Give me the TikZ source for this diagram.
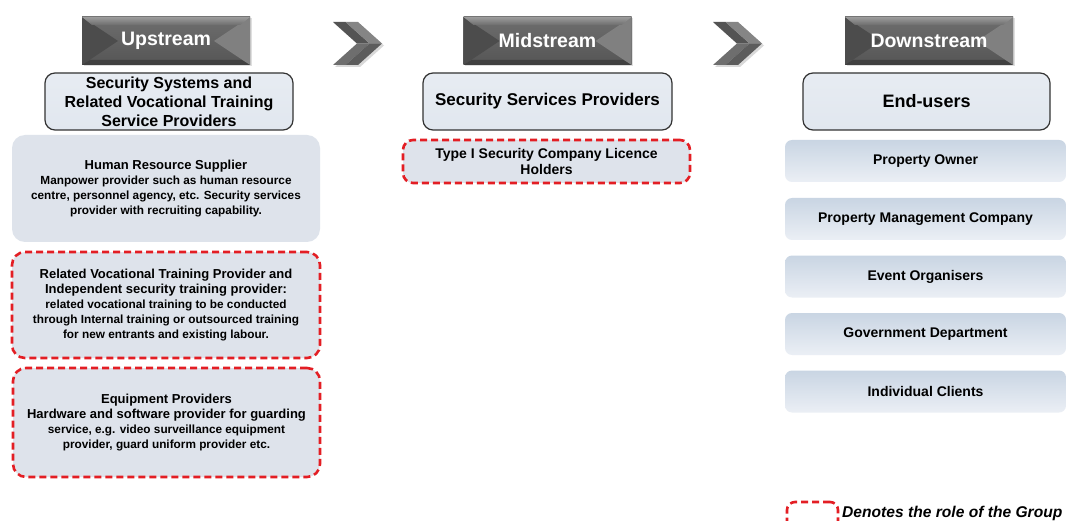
\documentclass[tikz,border=0pt]{standalone}
\usepackage{fontspec}
\setmainfont{Liberation Sans}
\usetikzlibrary{shadows}
\definecolor{boxfill}{HTML}{DEE3EB}
\definecolor{titlefill}{HTML}{E1E7EF}
\definecolor{redline}{HTML}{E31E24}
\definecolor{hdrtop}{HTML}{6E6E6E}
\definecolor{hdrbot}{HTML}{555555}
\definecolor{hdrleft}{HTML}{4C4C4C}
\definecolor{hdrright}{HTML}{808080}
\definecolor{hdrbevel}{HTML}{A2A2A2}
\definecolor{endtop}{HTML}{C9D5E3}
\definecolor{endbot}{HTML}{EBEFF5}
\tikzset{
  hdr/.style={rectangle, minimum width=168pt, minimum height=48pt, inner sep=0pt,
    top color=hdrtop, bottom color=hdrbot, text=white,
    font=\fontsize{19.5}{22}\selectfont\bfseries,
    drop shadow={shadow xshift=1.5pt, shadow yshift=-1.5pt, opacity=0.25},
    path picture={
      \fill[hdrleft] (path picture bounding box.north west) -- ([xshift=36pt]path picture bounding box.west) -- (path picture bounding box.south west) -- cycle;
      \fill[hdrright] (path picture bounding box.north east) -- ([xshift=-36pt]path picture bounding box.east) -- (path picture bounding box.south east) -- cycle;
      \shade[top color=hdrbevel, bottom color=hdrtop, opacity=0.9] (path picture bounding box.north west) -- (path picture bounding box.north east) -- ([xshift=-10pt,yshift=-8pt]path picture bounding box.north east) -- ([xshift=10pt,yshift=-8pt]path picture bounding box.north west) -- cycle;
      \fill[black, opacity=0.25] (path picture bounding box.south west) -- (path picture bounding box.south east) -- ([xshift=-8pt,yshift=5pt]path picture bounding box.south east) -- ([xshift=8pt,yshift=5pt]path picture bounding box.south west) -- cycle;
    }},
  titlebox/.style={rectangle, rounded corners=10pt, draw=black!80, line width=1.2pt,
    top color=titlefill!80!white, bottom color=titlefill, minimum height=57pt,
    inner sep=0pt, align=center, font=\bfseries},
  leftbox/.style={rectangle, rounded corners=13pt, fill=boxfill, minimum width=308pt,
    inner sep=0pt, align=center, font=\fontsize{11.8}{14.8}\selectfont\bfseries},
  reddash/.style={draw=redline, line width=2.6pt, dash pattern=on 7pt off 4pt},
  endbox/.style={rectangle, rounded corners=7pt, top color=endtop, bottom color=endbot,
    minimum width=281pt, minimum height=42pt, inner sep=0pt,
    font=\fontsize{14}{16}\selectfont\bfseries},
  chevA/.style={fill=black!67},
  chevB/.style={fill=black!48},
  chevC/.style={fill=black!57},
  chevD/.style={fill=black!64},
}
\newcommand{\chevron}[1]{%
  \begin{scope}[xshift=#1]
    \fill[black, opacity=0.15] (335,24) -- (360,24) -- (384,45.5) -- (360,67) -- (335,67) -- (359,45.5) -- cycle;
    \fill[chevA] (333,22) -- (345.5,22) -- (369.5,43.5) -- (357,43.5) -- cycle;
    \fill[chevB] (345.5,22) -- (358,22) -- (382,43.5) -- (369.5,43.5) -- cycle;
    \fill[chevC] (357,43.5) -- (369.5,43.5) -- (345.5,65) -- (333,65) -- cycle;
    \fill[chevD] (369.5,43.5) -- (382,43.5) -- (358,65) -- (345.5,65) -- cycle;
  \end{scope}}
\begin{document}
\begin{tikzpicture}[x=1pt,y=-1pt]
\useasboundingbox (0,0) rectangle (1067,521);
\clip (0,0) rectangle (1067,521);
\fill[white] (0,0) rectangle (1067,521);

% chevrons
\chevron{0pt}
\chevron{380pt}

% headers
\node[hdr] (up) at (166,41) {Upstream};
\node[hdr] (mid) at (547.5,41) {Midstream};
\node[hdr] (down) at (929,41) {Downstream};

% titles
\node[titlebox, minimum width=248pt, font=\fontsize{16}{19}\selectfont\bfseries] (t1) at (169,101.5)
  {Security Systems and\\Related Vocational Training\\Service Providers};
\node[titlebox, minimum width=249pt, font=\fontsize{17}{20}\selectfont\bfseries] (t2) at (547.5,101.5)
  {Security Services Providers};
\node[titlebox, minimum width=247pt, font=\fontsize{18}{21}\selectfont\bfseries] (t3) at (926.5,101.5)
  {End-users};

% midstream
\node[rectangle, rounded corners=10pt, fill=boxfill, reddash, minimum width=287pt, minimum height=43pt,
  inner sep=0pt, align=center, font=\fontsize{14}{16}\selectfont\bfseries] (type1) at (546.5,161.5)
  {Type I Security Company Licence\\Holders};

% upstream boxes
\node[leftbox, minimum height=107pt] (hr) at (166,188.5)
  {{\fontsize{13}{15}\selectfont Human Resource Supplier}\\
   Manpower provider such as human resource\\
   centre, personnel agency, etc. Security services\\
   provider with recruiting capability.};
\node[leftbox, reddash, minimum height=106pt] (voc) at (166,305)
  {{\fontsize{13}{15.3}\selectfont Related Vocational Training Provider and}\\
   {\fontsize{13}{15.3}\selectfont Independent security training provider:}\\
   related vocational training to be conducted\\
   through Internal training or outsourced training\\
   for new entrants and existing labour.};
\node[leftbox, reddash, minimum width=307pt, minimum height=109pt] (equip) at (166.5,422.5)
  {{\fontsize{13}{16}\selectfont Equipment Providers}\\
   {\fontsize{13}{16}\selectfont Hardware and software provider for guarding}\\
   service, e.g. video surveillance equipment\\
   provider, guard uniform provider etc.};

% downstream boxes
\node[endbox] (e1) at (925.5,161) {Property Owner};
\node[endbox] (e2) at (925.5,219) {Property Management Company};
\node[endbox] (e3) at (925.5,276.5) {Event Organisers};
\node[endbox] (e4) at (925.5,334) {Government Department};
\node[endbox] (e5) at (925.5,391.5) {Individual Clients};

% legend
\node[rectangle, rounded corners=8pt, reddash, minimum width=51pt, minimum height=30pt, inner sep=0pt] (leg) at (812.5,517) {};
\node[anchor=base west, inner sep=0pt, font=\fontsize{15.6}{18}\selectfont\bfseries\itshape] (legtxt) at (842,517)
  {Denotes the role of the Group};
\end{tikzpicture}
\end{document}
